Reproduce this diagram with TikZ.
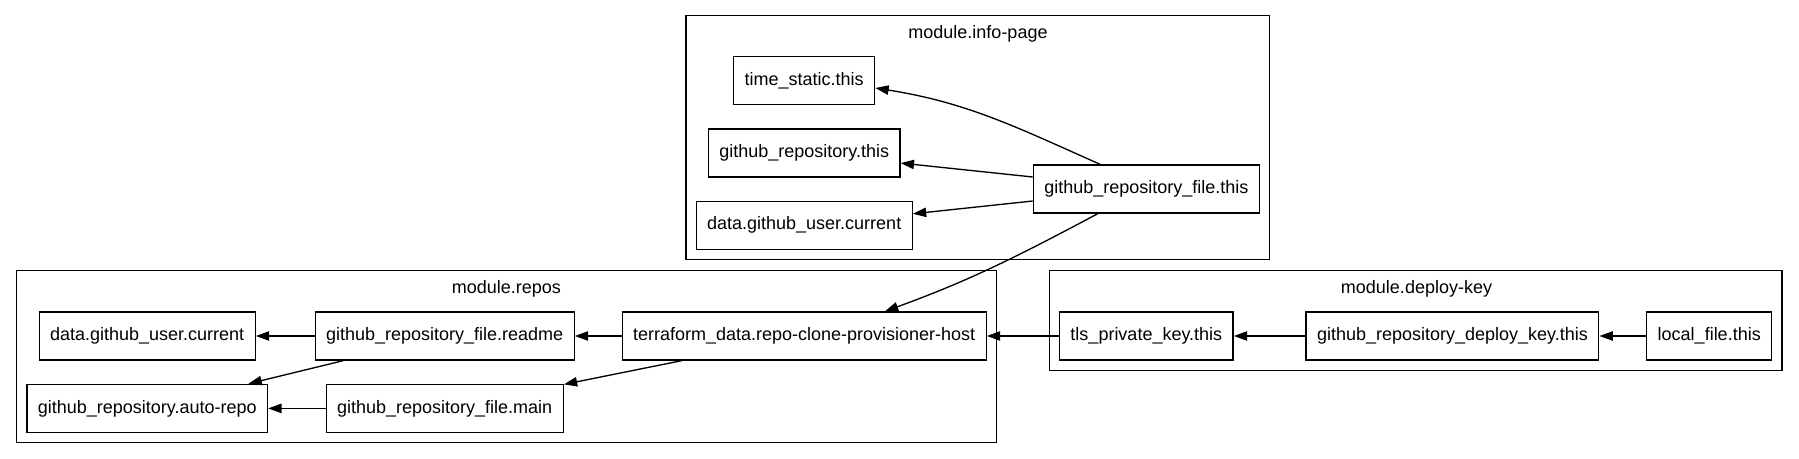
\documentclass[tikz,border=0pt]{standalone}
\usepackage{fontspec}
\setmainfont{Liberation Sans}
\usepackage{tikz}
\usetikzlibrary{positioning,arrows.meta,fit}

\begin{document}
\begin{tikzpicture}[
  x=0.75pt, y=-0.75pt,
  node distance=17.3pt and 35pt,
  res/.style={draw, line width=1pt, font=\fontsize{13.5}{16}\selectfont, minimum height=36pt, inner xsep=8.2pt, inner ysep=0pt},
  lbl/.style={font=\fontsize{13.5}{16}\selectfont, inner sep=0pt},
  grp/.style={draw, line width=1pt, inner sep=7.2pt},
  arr/.style={-{Triangle[length=10pt,width=7pt]}, line width=1pt}]
  \useasboundingbox (0,0) rectangle (1799,459);
  \node[res] (tf) at (804.2,336) {terraform\_data.repo-clone-provisioner-host};
  \node[res, left=of tf] (rd) {github\_repository\_file.readme};
  \node[res, left=44pt of rd] (ru) {data.github\_user.current};
  \node[res, below=of rd] (rm) {github\_repository\_file.main};
  \node[res, below=of ru] (ar) {github\_repository.auto-repo};
  \node[res, right=54pt of tf] (tk) {tls\_private\_key.this};
  \node[res, right=53.7pt of tk] (dk) {github\_repository\_deploy\_key.this};
  \node[res, right=of dk] (lf) {local\_file.this};
  \node[res, above=73.3pt of tk] (gf) {github\_repository\_file.this};
  \node[res, above=46pt of tf] (gu) {data.github\_user.current};
  \node[res, above=of gu] (gr) {github\_repository.this};
  \node[res, above=of gr] (ts) {time\_static.this};
  \node[lbl] (il) at (978,34) {module.info-page};
  \node[lbl] (rl) at (506.4,288.8) {module.repos};
  \node[lbl] (dl) at (1416.5,288.8) {module.deploy-key};
  \node[grp, fit=(il) (ts) (gr) (gu) (gf)] (info) {};
  \node[grp, fit=(rl) (ru) (rd) (tf) (ar) (rm)] (repos) {};
  \node[grp, fit=(dl) (tk) (dk) (lf)] (dkey) {};
  \draw[arr] (gf.152) to[out=156,in=-9] (ts.-6);
  \draw[arr] (gf) -- (gr); \draw[arr] (gf) -- (gu);
  \draw[arr] (gf.207) to[out=208,in=20] (tf.17);
  \draw[arr] (tf) -- (rd); \draw[arr] (rd) -- (ru); \draw[arr] (rd) -- (ar);
  \draw[arr] (tf) -- (rm); \draw[arr] (rm) -- (ar);
  \draw[arr] (tk) -- (tf); \draw[arr] (dk) -- (tk); \draw[arr] (lf) -- (dk);
\end{tikzpicture}
\end{document}
